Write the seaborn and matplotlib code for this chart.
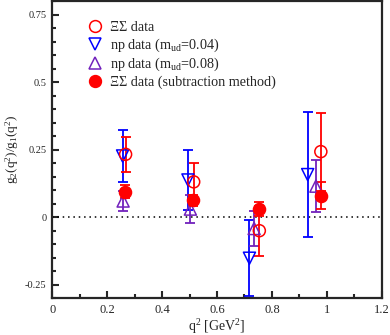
import seaborn as sns
import matplotlib.pyplot as plt
from matplotlib.lines import Line2D
from matplotlib.ticker import MultipleLocator
import pandas as pd

# q^2 positions and g2/g1 values
xs_q2 = [0.267, 0.515, 0.754, 0.978]
xs_val = [0.233, 0.131, -0.050, 0.243]
xs_err = [0.065, 0.070, 0.093, 0.145]

np04_q2 = [0.256, 0.494, 0.718, 0.930]
np04_val = [0.227, 0.138, -0.152, 0.158]
np04_err = [0.097, 0.110, 0.140, 0.232]

np08_q2 = [0.258, 0.503, 0.735, 0.960]
np08_val = [0.060, 0.030, -0.042, 0.115]
np08_err = [0.037, 0.052, 0.065, 0.097]

sub_q2 = [0.265, 0.513, 0.753, 0.977]
sub_val = [0.095, 0.063, 0.030, 0.080]
sub_err = [0.025, 0.020, 0.027, 0.050]

red = "#ff0000"
blue = "#0000ff"
purple = "#7221bc"

sns.set_style("ticks")
plt.rcParams['font.family'] = ['Liberation Serif', 'DejaVu Serif']
plt.rcParams['mathtext.default'] = 'regular'
plt.rcParams['xtick.direction'] = 'in'
plt.rcParams['ytick.direction'] = 'in'

fig = plt.figure(figsize=(3.9, 3.35), dpi=100)
ax = fig.add_axes([0.134, 0.11, 0.845, 0.886])

ax.axhline(0, color='black', ls=(0, (1, 2.5)), lw=1.1, zorder=1)

series = [
    (np04_q2, np04_val, np04_err, blue, 'v', 'none'),
    (np08_q2, np08_val, np08_err, purple, '^', 'none'),
    (xs_q2, xs_val, xs_err, red, 'o', 'none'),
    (sub_q2, sub_val, sub_err, red, 'o', red),
]
for q2, val, err, col, mk, fc in series:
    df = pd.DataFrame({'q2': q2, 'val': val})
    ax.errorbar(df['q2'], df['val'], yerr=err, fmt='none', ecolor=col,
                elinewidth=1.3, capsize=3.5, capthick=1.3, zorder=2)
    sns.scatterplot(data=df, x='q2', y='val', marker=mk, s=75,
                    facecolors=fc, edgecolor=col, linewidth=1.1, ax=ax, zorder=3)

handles = [
    Line2D([], [], ls='none', marker='o', ms=8.5, mfc='none', mec=red, mew=1.1),
    Line2D([], [], ls='none', marker='v', ms=8.5, mfc='none', mec=blue, mew=1.1),
    Line2D([], [], ls='none', marker='^', ms=8.5, mfc='none', mec=purple, mew=1.1),
    Line2D([], [], ls='none', marker='o', ms=8.5, mfc=red, mec=red, mew=1.1),
]
labels = [
    "ΞΣ data",
    "np data (m$_{ud}$=0.04)",
    "np data (m$_{ud}$=0.08)",
    "ΞΣ data (subtraction method)",
]
ax.legend(handles, labels, loc='upper left', bbox_to_anchor=(0.09, 0.952),
          frameon=False, fontsize=10.2, handlelength=1.0, handletextpad=0.55,
          labelspacing=0.16, borderaxespad=0)

ax.set_xlim(0, 1.2)
ax.set_ylim(-0.3, 0.8)
ax.xaxis.set_minor_locator(MultipleLocator(0.1))
ax.yaxis.set_minor_locator(MultipleLocator(0.05))
ax.set_xticks([0, 0.2, 0.4, 0.6, 0.8, 1.0, 1.2])
ax.set_xticklabels(['0', '0.2', '0.4', '0.6', '0.8', '1', '1.2'])
ax.set_yticks([-0.25, 0, 0.25, 0.5, 0.75])
ax.set_yticklabels(['-0.25', '0', '0.25', '0.5', '0.75'])
ax.tick_params(which='major', length=5, width=1.5, pad=4)
ax.tick_params(which='minor', length=3, width=1.5)
ax.tick_params(axis='x', labelsize=9)
ax.tick_params(axis='y', labelsize=7.5)
for sp in ax.spines.values():
    sp.set_linewidth(1.6)

ax.set_xlabel("q$^2$ [GeV$^2$]", fontsize=10, labelpad=1)
ax.set_ylabel("g$_2$(q$^2$)/g$_1$(q$^2$)", fontsize=9.5, labelpad=3)

fig.savefig("out.png", dpi=100)
